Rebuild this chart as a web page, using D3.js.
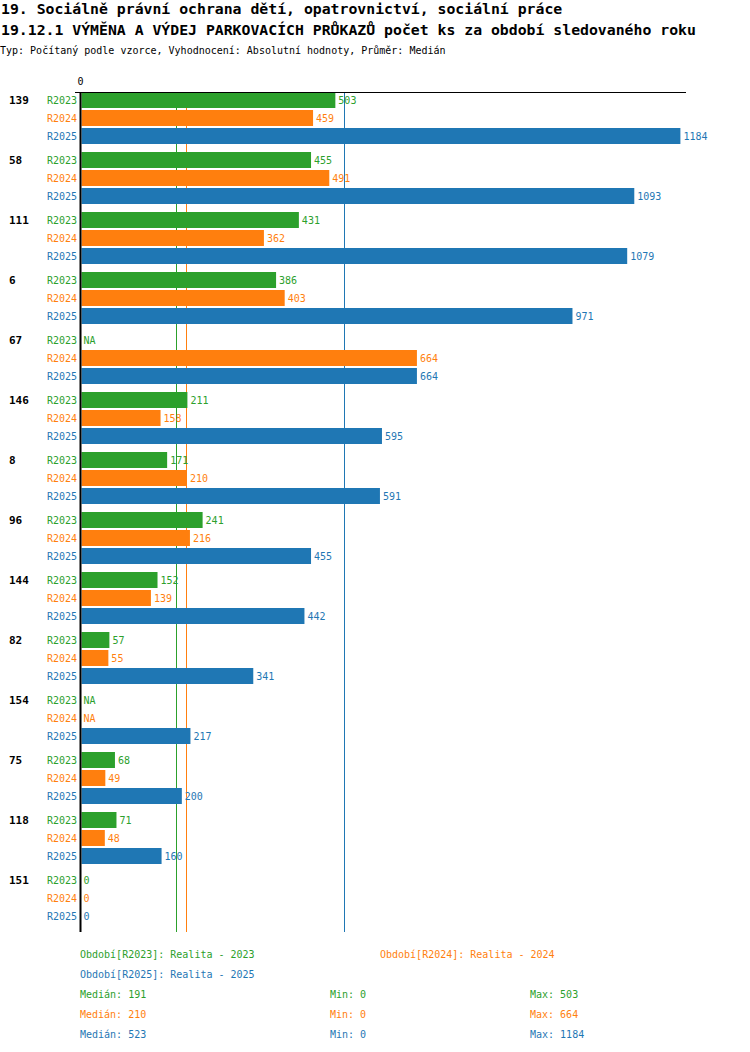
<!DOCTYPE html>
<html>
<head>
<meta charset="utf-8">
<script src="https://cdn.jsdelivr.net/npm/d3@7"></script>
<style>
  body { margin: 0; background: #fff; }
  text { font-family: "DejaVu Sans Mono", monospace; }
</style>
</head>
<body>
<svg id="chart" width="750" height="1052"></svg>
<script>
// data
const groups = ["139", "58", "111", "6", "67", "146", "8", "96", "144", "82", "154", "75", "118", "151"];
const series = ["R2023", "R2024", "R2025"];
const r2023 = [503, 455, 431, 386, null, 211, 171, 241, 152, 57, null, 68, 71, 0];
const r2024 = [459, 491, 362, 403, 664, 158, 210, 216, 139, 55, null, 49, 48, 0];
const r2025 = [1184, 1093, 1079, 971, 664, 595, 591, 455, 442, 341, 217, 200, 160, 0];
const medians = [191, 210, 523];
const mins = [0, 0, 0];
const maxs = [503, 664, 1184];
const periodNames = ["Realita - 2023", "Realita - 2024", "Realita - 2025"];
const colors = ["#2ca02c", "#ff7f0e", "#1f77b4"];

const values = [r2023, r2024, r2025];

const svg = d3.select("#chart");

const x = d3.scaleLinear().domain([0, 1200]).range([80.5, 688.5]);
const y = d3.scaleBand().domain(groups).range([92, 932]);
const yInner = d3.scaleBand().domain(series).range([0, 52]).paddingInner(2 / 18);

// titles
svg.append("text").attr("x", 1).attr("y", 14)
  .style("font-size", "14.8px").style("font-weight", "bold")
  .text("19. Sociálně právní ochrana dětí, opatrovnictví, sociální práce");
svg.append("text").attr("x", 1).attr("y", 35)
  .style("font-size", "14.8px").style("font-weight", "bold")
  .text("19.12.1 VÝMĚNA A VÝDEJ PARKOVACÍCH PRŮKAZŮ počet ks za období sledovaného roku");
svg.append("text").attr("x", 0).attr("y", 54)
  .style("font-size", "10px")
  .text("Typ: Počítaný podle vzorce, Vyhodnocení: Absolutní hodnoty, Průměr: Medián");

// median lines
svg.selectAll("line.median")
  .data(medians)
  .enter().append("line")
  .attr("class", "median")
  .attr("x1", d => Math.round(x(d)) - 0.5).attr("x2", d => Math.round(x(d)) - 0.5)
  .attr("y1", 92).attr("y2", 932)
  .attr("stroke", (d, i) => colors[i])
  .attr("stroke-width", 1);

// bars
const g = svg.selectAll("g.group")
  .data(groups)
  .enter().append("g")
  .attr("class", "group")
  .attr("transform", d => `translate(0,${y(d)})`);

g.append("text")
  .attr("x", 9).attr("y", yInner("R2023") + 12)
  .style("font-size", "11px").style("font-weight", "bold")
  .text(d => d);

series.forEach((s, si) => {
  g.filter((d, i) => values[si][i] != null && values[si][i] > 0)
    .append("rect")
    .attr("x", x(0) + 1)
    .attr("y", yInner(s))
    .attr("width", d => x(values[si][groups.indexOf(d)]) - x(0) - 1)
    .attr("height", yInner.bandwidth())
    .attr("fill", colors[si]);

  g.append("text")
    .attr("x", 77).attr("y", yInner(s) + 12)
    .attr("text-anchor", "end")
    .attr("fill", colors[si])
    .style("font-size", "10px")
    .text(s);

  g.append("text")
    .attr("x", (d, i) => {
      const v = values[si][i];
      return v == null ? x(0) + 3 : x(v) + 3;
    })
    .attr("y", yInner(s) + 12)
    .attr("fill", colors[si])
    .style("font-size", "10px")
    .text((d, i) => values[si][i] == null ? "NA" : values[si][i]);
});

// axes
svg.append("line")
  .attr("x1", 75).attr("x2", 686).attr("y1", 92.5).attr("y2", 92.5)
  .attr("stroke", "#000");
svg.append("line")
  .attr("x1", x(0)).attr("x2", x(0)).attr("y1", 92).attr("y2", 932)
  .attr("stroke", "#000").attr("stroke-width", 2);
svg.append("text")
  .attr("x", x(0)).attr("y", 85)
  .attr("text-anchor", "middle")
  .style("font-size", "10px")
  .text("0");

// legend
const legendPos = [[80, 958], [380, 958], [80, 978]];
series.forEach((s, i) => {
  svg.append("text")
    .attr("x", legendPos[i][0]).attr("y", legendPos[i][1])
    .attr("fill", colors[i])
    .style("font-size", "10px")
    .text(`Období[${s}]: ${periodNames[i]}`);
  const yy = 998 + i * 20;
  svg.append("text").attr("x", 80).attr("y", yy).attr("fill", colors[i])
    .style("font-size", "10px").text(`Medián: ${medians[i]}`);
  svg.append("text").attr("x", 330).attr("y", yy).attr("fill", colors[i])
    .style("font-size", "10px").text(`Min: ${mins[i]}`);
  svg.append("text").attr("x", 530).attr("y", yy).attr("fill", colors[i])
    .style("font-size", "10px").text(`Max: ${maxs[i]}`);
});
</script>
</body>
</html>
